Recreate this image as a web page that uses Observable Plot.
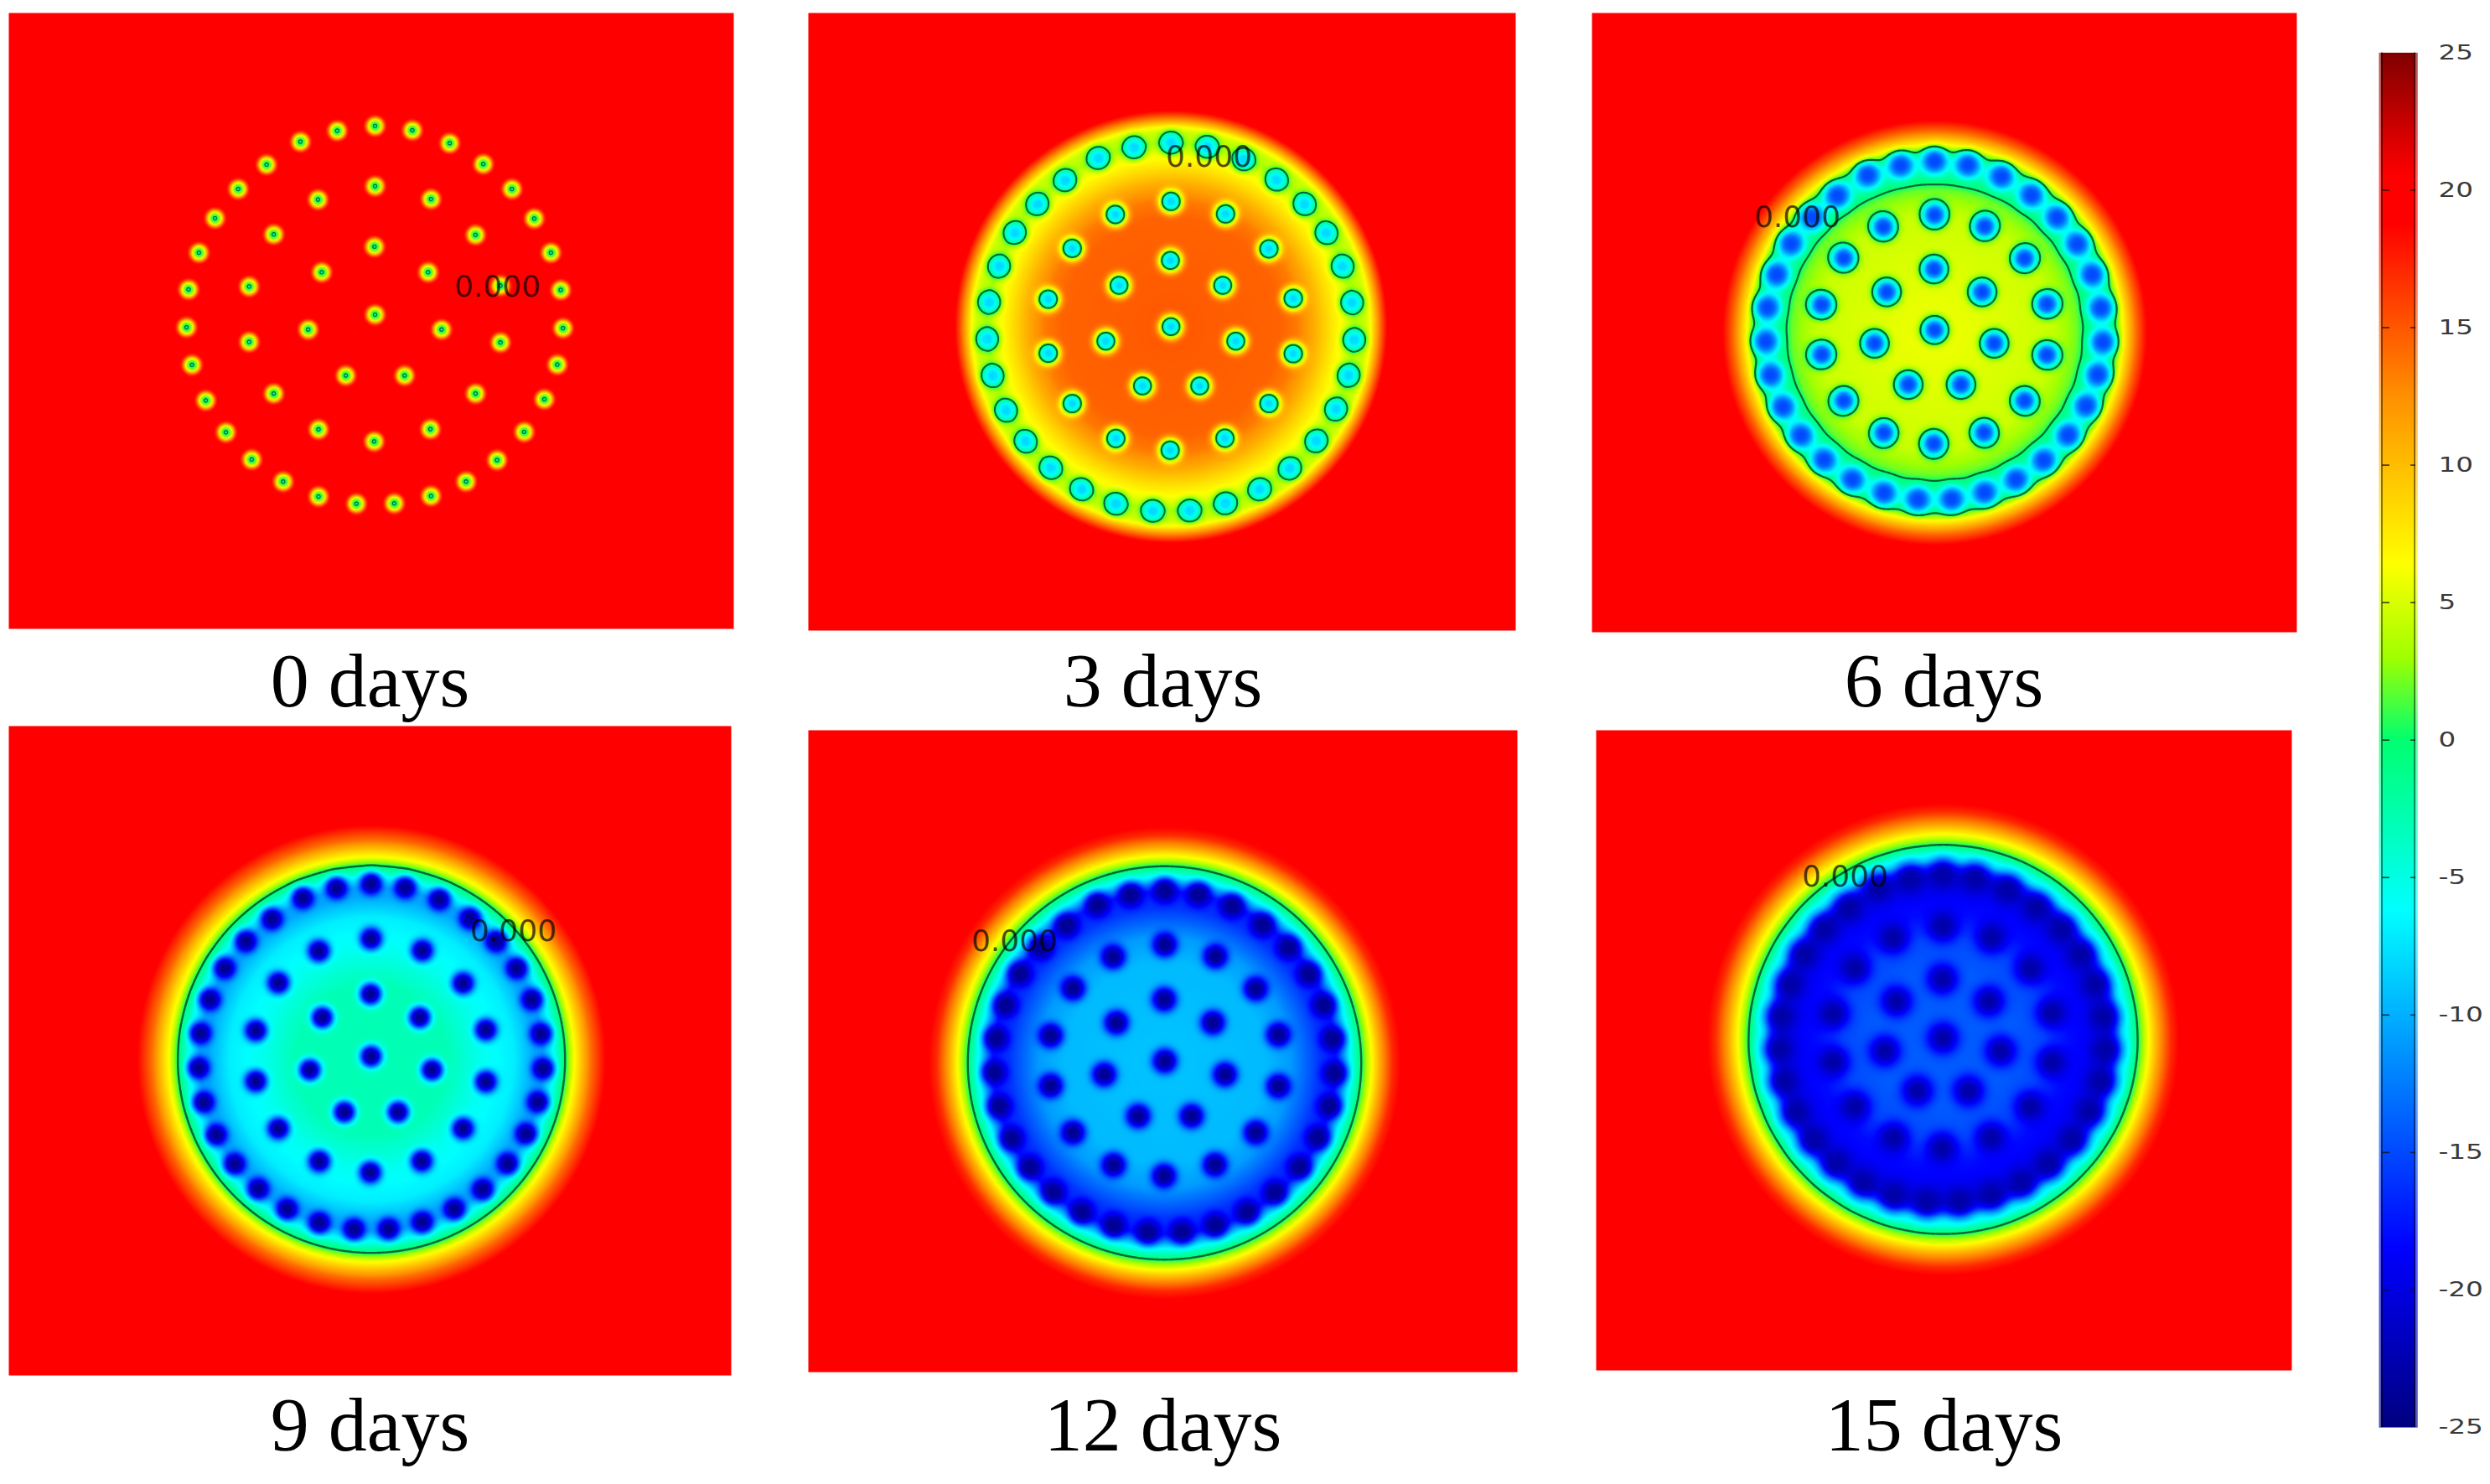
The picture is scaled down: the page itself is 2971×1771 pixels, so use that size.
<!DOCTYPE html>
<html>
<head>
<meta charset="utf-8">
<style>
html,body{margin:0;padding:0;background:#fff;}
svg{display:block;}
</style>
<script src="https://cdn.jsdelivr.net/npm/d3@7"></script>
<script src="https://cdn.jsdelivr.net/npm/@observablehq/plot@0.6"></script>
</head>
<body>
<div id="chart"></div>
<script>
// Freeze-pipe layout (offset from the centre pipe)
const pipeX = [0,43.3,86.7,125.7,159,185,204.3,215.7,218.3,211.7,196.7,173.3,141.7,105.7,65,22.3,-21.7,-65.7,-106.7,-143.3,-173.3,-196.7,-212.7,-219,-216.7,-204.7,-186,-159,-126,-86.7,-44,
  0,65,116.7,145.7,145.7,116.7,64.3,-1,-65.7,-117.7,-146.3,-146.3,-117.7,-66.3,
  -0.7,61.7,77.3,34.3,-34,-77.7,-62,0];
const pipeY = [-219.3,-214.3,-199.3,-175,-146,-111.7,-72,-28.7,15.7,58,98.3,136.3,169,194,210.7,219.3,219.7,211.3,194,168.3,136.7,99.7,58.3,14.7,-29.3,-72,-112,-146,-174.3,-201,-213.7,
  -149.3,-134.3,-92.7,-33.7,32.3,91.7,133,147.3,133.3,91.7,31.7,-32.7,-93.3,-133.7,
  -79,-49.3,17.3,70.7,70.7,17.3,-49.3,0];

// Captions
const dayLabels = ["0 days","3 days","6 days","9 days","12 days","15 days"];

// Radial temperature profile of each panel (distance from ground centre, degrees C)
const radii0 = [0,400];                                   const temps0 = [20,20];
const radii3 = [0,130,150,170,190,205,219,232,238,248,258,266]; const temps3 = [15,14.5,13.5,11,8,6,3.5,4.5,6.4,13,19,20];
const radii6 = [0,140,170,177,195,205,215,224,240,255,265]; const temps6 = [6,4.5,2,0,-3.5,-3.5,0,6.4,14,19.5,20];
const radii9 = [0,90,130,170,195,205,218,231,241,262,280,292]; const temps9 = [-3,-3,-5.5,-7,-10.5,-10.5,-5.5,0,6,14,19,20];
const radii12 = [0,120,150,185,205,220,234.7,247,258,272,285,295]; const temps12 = [-9,-9.5,-11,-16,-17,-7,0,6.4,11.5,17,19.5,20];
const radii15 = [0,80,120,150,195,205,213,222,232,245,258,272,285,295]; const temps15 = [-14,-14,-15,-18,-19.5,-14,-7,-4.5,0,6.4,12,17,19.5,20];

// Coldest temperature at a pipe, per panel
const pipeTemps = [-0.2,-8,-15,-24,-24,-23];

// Colour bar
const barTicks = [25,20,15,10,5,0,-5,-10,-15,-20,-25];
const rampTemps = [-25,-18.5,-6.2,0,3,6.4,12.5,18.8,20.5,25];
const rampColors = ["#000080","#0000ff","#00ffff","#00ff70","#a0ff00","#ffff00","#ff9000","#ff0000","#ff0000","#800000"];

// ---- page layout (pixels), kept apart from the values ----
const W = 2971, H = 1771;
const panelBox = [[10,15,875,750],[964,15,1808,752],[1899,15,2740,754],[10,866,872,1641],[964,871,1810,1637],[1904,871,2734,1635]];
const pipeCentre = [[447,375],[1396.7,389.3],[2307.7,393.3],[442.3,1260],[1389.3,1265.7],[2317.7,1238.3]];
const groundCentre = [[447,375],[1396.7,389.3],[2308,396.5],[442.7,1263.7],[1389,1268],[2318,1240]];
const pipeScale = [1.027,1,0.92,0.94,0.93,0.892];
const pipeSpread = [10,13.5,15.5,13.5,15,18.5];
const pipePower = [3,3,3,3,3,2.5];
const contourWidth = [1.2,2,2.2,2.4,2.4,2.4];
const labelPos = [[593,353],[1442,198],[2144,270],[612,1122],[1210,1134],[2201,1057]];
const captionPos = [[441,842],[1387,842],[2319,842],[441,1730],[1387,1730],[2319,1730]];
const bar = {x1:2838,x2:2884,tickL:[2842,2851],tickR:[2876,2882],labelX:2909};
const barY = d3.scaleLinear([25,-25],[62.4,1703]);

const profiles = [[radii0,temps0],[radii3,temps3],[radii6,temps6],[radii9,temps9],[radii12,temps12],[radii15,temps15]];
const tempRamp = d3.scaleLinear(rampTemps, rampColors).interpolate(d3.interpolateRgb).clamp(true);

function field(i){
  const base = d3.scaleLinear(profiles[i][0], profiles[i][1]).clamp(true);
  const [gx,gy] = groundCentre[i], [px,py] = pipeCentre[i], k = pipeScale[i], s2 = pipeSpread[i]*pipeSpread[i];
  const lim = 6.25*s2, Tc = pipeTemps[i], q = pipePower[i]/2;
  const X = pipeX.map(v=>px+v*k), Y = pipeY.map(v=>py+v*k), n = X.length;
  return (x,y)=>{
    const b = base(Math.hypot(x-gx,y-gy));
    let keep = 1;
    for(let j=0;j<n;j++){
      const dx=x-X[j], dy=y-Y[j], d2=dx*dx+dy*dy;
      if(d2<lim) keep *= 1-Math.exp(-Math.pow(d2/s2,q));
    }
    return b+(Tc-b)*(1-keep);
  };
}

const marks = [];
panelBox.forEach((b,i)=>{
  const f = field(i);
  marks.push(Plot.raster({fill:f,x1:b[0],y1:b[1],x2:b[2],y2:b[3],pixelSize:2}));
  // the frozen region (below 0) is traced, so the line never runs along the panel edge
  marks.push(Plot.contour({value:(x,y)=>-f(x,y),x1:b[0],y1:b[1],x2:b[2],y2:b[3],pixelSize:1,thresholds:[0],fill:"none",stroke:"#004c30",strokeWidth:contourWidth[i],strokeOpacity:0.85}));
});
// colour bar
marks.push(Plot.raster({fill:(x,y)=>barY.invert(y),x1:bar.x1,x2:bar.x2,y1:barY(25),y2:barY(-25),pixelSize:1}));
[[bar.x1,bar.x1+3,"white",0.35],[bar.x2-2,bar.x2,"white",0.35],[bar.x1+3,bar.x1+5,"black",0.45],[bar.x2-4,bar.x2-2,"black",0.45]].forEach(([a,c,col,op])=>{
  marks.push(Plot.rect([0],{x1:()=>a,x2:()=>c,y1:()=>barY(25),y2:()=>barY(-25),fill:col,fillOpacity:op}));
});
const innerTicks = barTicks.slice(1,-1);
marks.push(Plot.ruleY(innerTicks,{y:d=>barY(d),x1:bar.tickL[0],x2:bar.tickL[1],stroke:"#111",strokeWidth:1.6,strokeOpacity:0.8}));
marks.push(Plot.ruleY(innerTicks,{y:d=>barY(d),x1:bar.tickR[0],x2:bar.tickR[1],stroke:"#111",strokeWidth:1.6,strokeOpacity:0.8}));
marks.push(Plot.text(barTicks,{x:bar.labelX,y:d=>barY(d),text:d=>String(d),textAnchor:"start",lineAnchor:"middle",fontFamily:"DejaVu Sans",fontSize:24,fill:"#3a3a3a",className:"barlabels"}));
// contour value labels
marks.push(Plot.text(labelPos,{x:d=>d[0],y:d=>d[1],text:()=>"0.000",textAnchor:"middle",lineAnchor:"bottom",fontFamily:"DejaVu Sans",fontSize:36,fill:"black",fillOpacity:0.7}));
// captions
marks.push(Plot.text(dayLabels,{x:(d,i)=>captionPos[i][0],y:(d,i)=>captionPos[i][1],text:d=>d,textAnchor:"middle",lineAnchor:"bottom",fontFamily:"Liberation Serif",fontSize:92,fill:"black"}));

const chart = Plot.plot({
  width:W,height:H,margin:0,
  style:{background:"#fff"},
  x:{domain:[0,W],range:[0,W],axis:null},
  y:{domain:[0,H],range:[0,H],axis:null},
  color:{type:"linear",domain:[-25,25],interpolate:t=>tempRamp(-25+50*t),clamp:true},
  marks
});
d3.select(chart).selectAll(".barlabels text").each(function(){
  const t=this.textContent, w=t.replace("-","").length*20.7+(t.startsWith("-")?12:0);
  this.setAttribute("textLength",w);
  this.setAttribute("lengthAdjust","spacingAndGlyphs");
});
document.getElementById("chart").appendChild(chart);
</script>
</body>
</html>
